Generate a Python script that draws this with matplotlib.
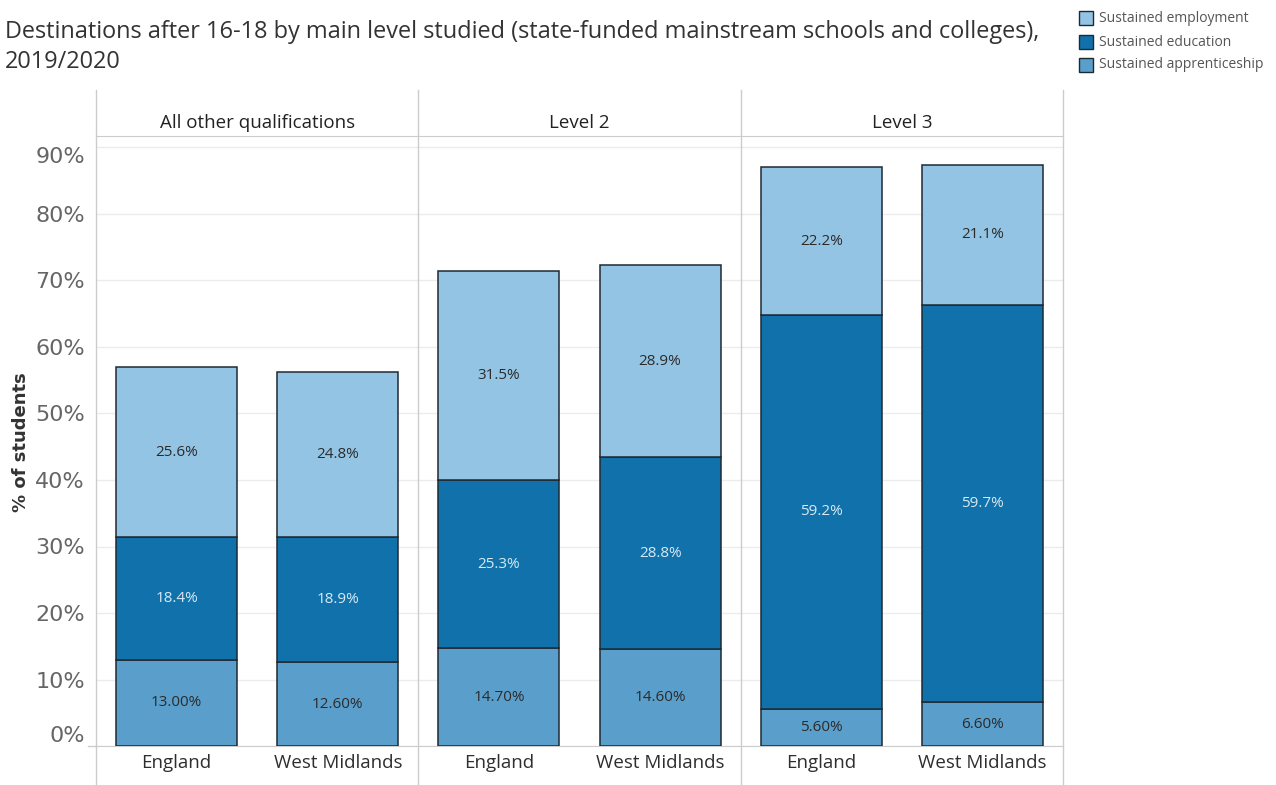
import numpy as np
import matplotlib.pyplot as plt
from matplotlib.lines import Line2D
from matplotlib.patches import Rectangle
import matplotlib.transforms as mtransforms

plt.rcParams['font.family'] = ['Open Sans', 'DejaVu Sans']

levels = ['All other qualifications', 'Level 2', 'Level 3']
regions = ['England', 'West Midlands']
apprenticeship = [13.0, 12.6, 14.7, 14.6, 5.6, 6.6]
education = [18.4, 18.9, 25.3, 28.8, 59.2, 59.7]
employment = [25.6, 24.8, 31.5, 28.9, 22.2, 21.1]

c_emp = '#94c4e3'
c_edu = '#1172ab'
c_app = '#5a9fcb'
edge = '#1e2a33'

W, H = 1276, 785
fig = plt.figure(figsize=(W / 100, H / 100), dpi=100)

def fx(px):
    return px / W

def fy(py):
    return 1 - py / H

ax = fig.add_axes([fx(96), fy(746), fx(1063) - fx(96), fy(136) - fy(746)])

x = np.arange(len(apprenticeship))
w = 0.75
app = np.array(apprenticeship)
edu = np.array(education)
emp = np.array(employment)

b1 = ax.bar(x, app, w, color=c_app, edgecolor=edge, linewidth=1.1, zorder=3)
b2 = ax.bar(x, edu, w, bottom=app, color=c_edu, edgecolor=edge, linewidth=1.1, zorder=3)
b3 = ax.bar(x, emp, w, bottom=app + edu, color=c_emp, edgecolor=edge, linewidth=1.1, zorder=3)

ax.bar_label(b1, fmt='{:.2f}%', label_type='center', fontsize=11, color='#2b2b2b')
ax.bar_label(b2, fmt='{:.1f}%', label_type='center', fontsize=11, color='#d8e9f5')
ax.bar_label(b3, fmt='{:.1f}%', label_type='center', fontsize=11, color='#2b2b2b')

ax.set_xlim(-0.5, 5.5)
ax.set_ylim(0, (746 - 136) / 6.65)

yt = np.arange(0, 100, 10)
ax.set_yticks(yt)
ax.set_yticklabels([f'{v}%' for v in yt], fontsize=16, color='#666666',
                   family=['DejaVu Sans'])
ax.get_yticklabels()[0].set_va('bottom')
ax.get_yticklabels()[-1].set_va('top')
ax.tick_params(axis='y', length=0, pad=8)
ax.yaxis.grid(True, color='#ececec', linewidth=1, zorder=0)

ax.set_xticks(x)
ax.set_xticklabels(regions * 3, fontsize=13.5, color='#2e2e2e')
ax.tick_params(axis='x', length=0, pad=6)

for s in ['left', 'right']:
    ax.spines[s].set_visible(False)
ax.spines['top'].set_color('#cccccc')
ax.spines['bottom'].set_color('#cccccc')

# panel dividers
for px in [96, 418, 741, 1063]:
    fig.add_artist(Line2D([fx(px), fx(px)], [fy(90), 0], color='#cccccc', linewidth=1))
fig.add_artist(Line2D([fx(88), fx(96)], [fy(746), fy(746)], color='#cccccc', linewidth=1))

# level headers
trans = mtransforms.blended_transform_factory(ax.transData, fig.transFigure)
for i, lvl in enumerate(levels):
    ax.text(2 * i + 0.5, fy(123), lvl, transform=trans, ha='center', va='center',
            fontsize=13.5, color='#222222')

ax.set_ylabel('% of students', fontsize=13, fontweight='bold', color='#333333',
              family=['DejaVu Sans'])
ax.yaxis.set_label_coords((30 - 96) / (1063 - 96), (746 - 442) / (746 - 136))

fig.text(fx(5), fy(32), 'Destinations after 16-18 by main level studied (state-funded mainstream schools and colleges),',
         fontsize=16.9, color='#333333', va='center')
fig.text(fx(5), fy(62), '2019/2020', fontsize=16.9, color='#333333', va='center')

# legend
names = ['Sustained employment', 'Sustained education', 'Sustained apprenticeship']
cols = [c_emp, c_edu, c_app]
for name, col, py in zip(names, cols, [18, 42, 65]):
    fig.add_artist(Rectangle((fx(1079), fy(py + 7)), fx(14), 14 / H, facecolor=col,
                             edgecolor=edge, linewidth=1))
    fig.text(fx(1099), fy(py), name, fontsize=10, color='#555555', va='center')

fig.savefig('out.png', dpi=100)
